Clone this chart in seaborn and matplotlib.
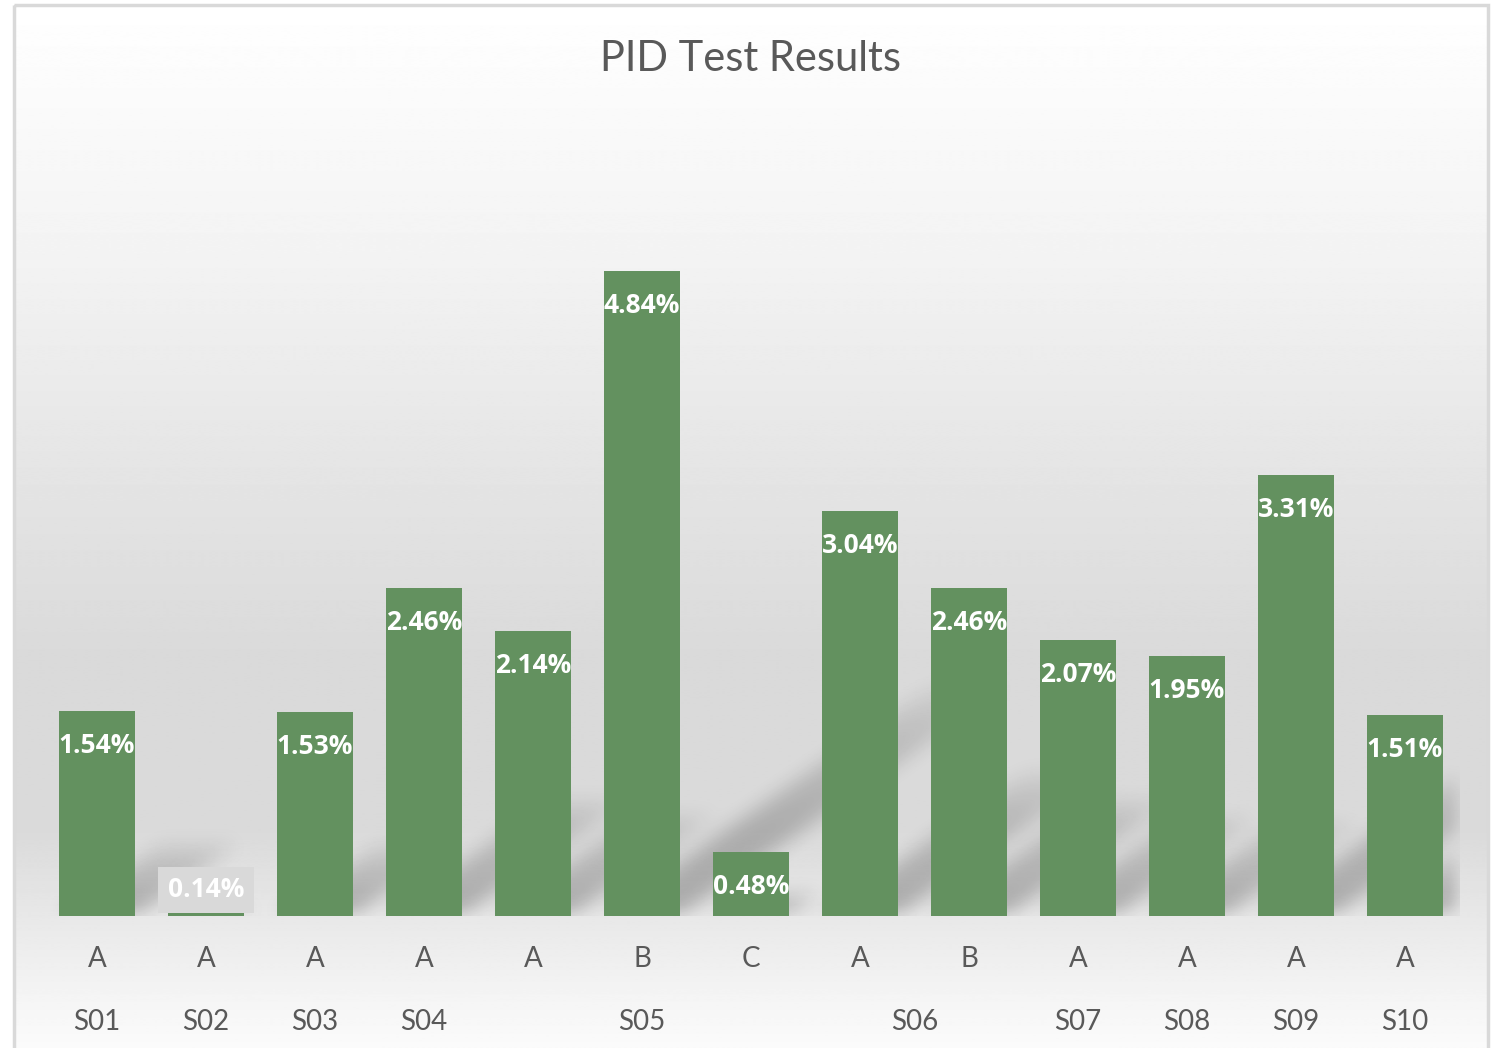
import matplotlib
matplotlib.use('Agg')
import matplotlib.pyplot as plt
from matplotlib.patches import Rectangle
import seaborn as sns
import numpy as np
import pandas as pd

# data
samples = ['S01', 'S02', 'S03', 'S04', 'S05', 'S05', 'S05',
           'S06', 'S06', 'S07', 'S08', 'S09', 'S10']
grades = ['A', 'A', 'A', 'A', 'A', 'B', 'C', 'A', 'B', 'A', 'A', 'A', 'A']
pid_loss = [1.54, 0.14, 1.53, 2.46, 2.14, 4.84, 0.48,
            3.04, 2.46, 2.07, 1.95, 3.31, 1.51]

BAR_COLOR = '#63915f'
TEXT_COLOR = '#595959'
FONT = ['Lato', 'DejaVu Sans']
LABEL_FONT = ['Open Sans', 'DejaVu Sans']

sns.set_theme(style='white')
plt.rcParams['font.family'] = FONT


def box_blur(a, r):
    """Separable box blur, applied twice for a softer falloff."""
    k = np.ones(2 * r + 1) / (2 * r + 1)
    for _ in range(2):
        a = np.apply_along_axis(lambda m: np.convolve(m, k, mode='same'), 0, a)
        a = np.apply_along_axis(lambda m: np.convolve(m, k, mode='same'), 1, a)
    return a


W, H = 1491, 1048
fig = plt.figure(figsize=(W / 100, H / 100), dpi=100)
fig.patch.set_facecolor('white')

# chart area background: vertical grey gradient inside a light frame
bg = fig.add_axes([0, 0, 1, 1], zorder=0)
bg.set_xlim(0, W)
bg.set_ylim(H, 0)
bg.axis('off')
rows = np.arange(H)
shade = np.interp(rows, [0, 250, 450, 650, 830, 916, 1000, 1048],
                  [255, 243, 230, 218, 218, 232, 245, 251]) / 255.0
grad = np.repeat(shade[:, None], 2, axis=1)
bg.imshow(grad, cmap='gray', vmin=0, vmax=1, aspect='auto',
          extent=(14, 1488, H, 5), interpolation='bilinear')
bg.add_patch(Rectangle((14, 5), 1474, H + 20, fill=False,
                       edgecolor='#d9d9d9', lw=2.5))

# plot area
ax_l, ax_b, ax_w, ax_h = 42.5, 132, 1417, 800
ax = fig.add_axes([ax_l / W, ax_b / H, ax_w / W, ax_h / H], zorder=1)
ax.patch.set_alpha(0)

df = pd.DataFrame({'key': [f'{s}-{g}-{i}' for i, (s, g) in enumerate(zip(samples, grades))],
                   'value': pid_loss})
n = len(df)
ymax = 6
bar_w = 0.706

# soft floor shadows cast up and to the right by each bar
px_x = ax_w / n
px_y = ax_h / ymax
step = 2
xs = np.arange(0, int(ax_w), step) + 0.5
ys = np.arange(0, int(ax_h), step) + 0.5
X, Y = np.meshgrid(xs, ys)
alpha = np.zeros_like(X)
slope, reach = 0.7, 0.36
for i, v in enumerate(df['value']):
    xl = (i + 0.5 - bar_w / 2) * px_x
    xr = (i + 0.5 + bar_w / 2) * px_x
    hs = reach * v * px_y
    u = X - Y / slope
    inside = (u >= xl) & (u <= xr) & (Y <= hs)
    fade = np.clip(1 - Y / hs, 0, 1) ** 0.5
    alpha = np.maximum(alpha, inside * fade)
alpha = box_blur(alpha, 5)
rgba = np.zeros(X.shape + (4,))
rgba[..., 3] = alpha * 0.26
ax.imshow(rgba, extent=(-0.5, n - 0.5, 0, ymax), origin='lower',
          aspect='auto', interpolation='bilinear', zorder=1)

sns.barplot(data=df, x='key', y='value', color=BAR_COLOR, saturation=1,
            width=bar_w, linewidth=0, ax=ax, zorder=3)

ax.set_xlim(-0.5, n - 0.5)
ax.set_ylim(0, ymax)
for sp in ax.spines.values():
    sp.set_visible(False)
ax.set_xticks([])
ax.set_yticks([])
ax.set_xlabel('')
ax.set_ylabel('')

# data labels, inside the top of each bar
for i, v in enumerate(df['value']):
    if v * px_y < 60:
        ax.text(i, 19 / px_y, f'{v:.2f}%', ha='center', va='baseline',
                fontsize=19, fontweight='bold', color='white', zorder=5,
                family=LABEL_FONT,
                bbox=dict(boxstyle='square,pad=0.36', fc='#d9d9d9', ec='none'))
    else:
        ax.text(i, v - 42 / px_y, f'{v:.2f}%', ha='center', va='baseline',
                fontsize=19, fontweight='bold', color='white', zorder=5,
                family=LABEL_FONT)

# two-level category axis
trans = ax.get_xaxis_transform()
for i, g in enumerate(grades):
    ax.text(i, -51 / ax_h, g, ha='center', va='baseline', fontsize=20,
            color=TEXT_COLOR, transform=trans)
groups = pd.Series(range(n)).groupby(pd.Series(samples)).mean()
for name, pos in groups.items():
    ax.text(pos, -114 / ax_h, name, ha='center', va='baseline', fontsize=20,
            color=TEXT_COLOR, transform=trans)

fig.text(751 / W, 1 - 71 / H, 'PID Test Results', ha='center', va='baseline',
         fontsize=30, color=TEXT_COLOR)

fig.savefig('out.png', dpi=100)
